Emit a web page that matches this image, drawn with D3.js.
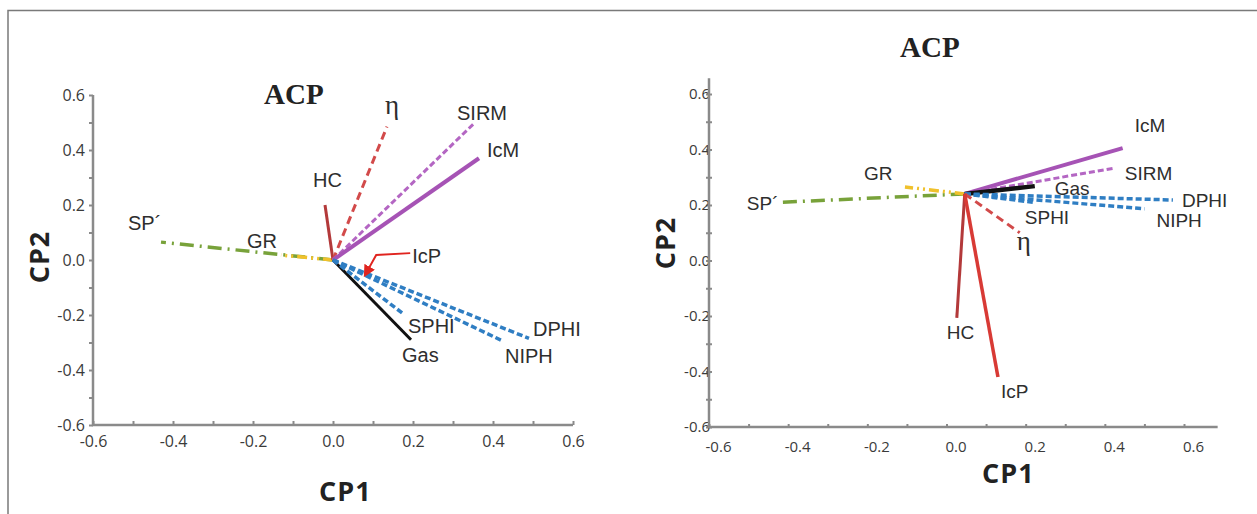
<!DOCTYPE html>
<html>
<head>
<meta charset="utf-8">
<script src="https://cdn.jsdelivr.net/npm/d3@7"></script>
<style>
  body { margin: 0; background: #fff; }
  svg { display: block; }
</style>
</head>
<body>
<div id="chart"></div>
<script>
// === Data ===
const tickValues = [-0.6, -0.5, -0.4, -0.3, -0.2, -0.1, 0, 0.1, 0.2, 0.3, 0.4, 0.5, 0.6];

// left panel: vectors start at (0,0)
const leftNames = ["SP´", "GR", "HC", "η", "SIRM", "IcM", "Gas", "SPHI", "DPHI", "NIPH"];
const leftCP1 = [-0.43, -0.13, -0.02, 0.135, 0.355, 0.365, 0.195, 0.175, 0.49, 0.425];
const leftCP2 = [0.065, 0.018, 0.2, 0.485, 0.5, 0.37, -0.29, -0.195, -0.285, -0.295];
const leftOrigin = [0, 0];
// IcP pointer arrow in the left panel
const icpArrowCP1 = [0.193, 0.108, 0.08];
const icpArrowCP2 = [0.025, 0.018, -0.055];

// right panel: vectors start at a shifted origin
const rightNames = ["SP´", "GR", "IcM", "SIRM", "Gas", "DPHI", "NIPH", "SPHI", "η", "HC", "IcP"];
const rightCP1 = [-0.416, -0.105, 0.445, 0.425, 0.223, 0.572, 0.5, 0.218, 0.185, 0.026, 0.13];
const rightCP2 = [0.21, 0.265, 0.405, 0.333, 0.268, 0.218, 0.186, 0.21, 0.1, -0.207, -0.42];
const rightOrigin = [0.046, 0.24];

// === Styles ===
const lineStyle = {
  "SP´":  { color: "#78a23a", width: 3.5, dash: "14,6,2,6" },
  "GR":   { color: "#f0c12c", width: 3.5, dash: "10,4,2,4,2,4" },
  "HC":   { color: "#b3393a", width: 3, dash: null },
  "η":    { color: "#d24a4a", width: 3, dash: "8,5" },
  "SIRM": { color: "#b466c3", width: 3, dash: "6,3" },
  "IcM":  { color: "#a653b5", width: 4, dash: null },
  "IcP":  { color: "#d83a35", width: 3.5, dash: null },
  "Gas":  { color: "#111", width: 3, dash: null },
  "SPHI": { color: "#2f7ec3", width: 3.5, dash: "6,3" },
  "DPHI": { color: "#2f7ec3", width: 3.5, dash: "6,3" },
  "NIPH": { color: "#2f7ec3", width: 3.5, dash: "6,3" }
};

// label offsets from the vector tip, px
const leftLabelOff = {
  "SP´": [-33, -12], "GR": [-34, -7], "HC": [-12, -18], "η": [-2, -13],
  "SIRM": [-18, -3], "IcM": [8, -1], "Gas": [-9, 22], "SPHI": [5, 19],
  "DPHI": [4, -2], "NIPH": [2, 22]
};
const rightLabelOff = {
  "SP´": [-35, 8], "GR": [-41, -7], "IcM": [12, -16], "SIRM": [10, 12],
  "Gas": [20, 9], "DPHI": [9, 7], "NIPH": [12, 18], "SPHI": [-8, 22],
  "η": [-3, 17], "HC": [-10, 21], "IcP": [3, 21]
};

const W = 1257, H = 514;
const svg = d3.select("#chart").append("svg")
  .attr("width", W)
  .attr("height", H);

// frame (top and left edge only)
svg.append("path")
  .attr("d", `M8,${H} L8,10.5 L${W},10.5`)
  .attr("fill", "none")
  .attr("stroke", "#7a7a7a")
  .attr("stroke-width", 1.5);

const defs = svg.append("defs");
defs.append("marker")
  .attr("id", "redHead")
  .attr("viewBox", "0 0 10 10")
  .attr("refX", 8)
  .attr("refY", 5)
  .attr("markerWidth", 6)
  .attr("markerHeight", 6)
  .attr("markerUnits", "strokeWidth")
  .attr("orient", "auto")
  .append("path")
  .attr("d", "M0,0 L10,5 L0,10 z")
  .attr("fill", "#e0241f");

function drawPanel(p) {
  const x = d3.scaleLinear().domain([-0.6, 0.6]).range(p.xRange);
  const y = d3.scaleLinear().domain([-0.6, 0.6]).range(p.yRange);
  const g = svg.append("g");
  const fmt = d => (Math.round(d * 10) % 2 === 0 ? d.toFixed(1) : "");

  // === X Axis ===
  const xAxis = g.append("g")
    .attr("transform", `translate(0,${y(-0.6)})`)
    .call(d3.axisBottom(x).tickValues(tickValues).tickFormat(fmt)
      .tickSize(-p.xTick).tickSizeOuter(0).tickPadding(p.xPad));
  xAxis.select(".domain").remove();
  xAxis.selectAll(".tick line").attr("stroke", "#8a8a8a").attr("stroke-width", 2);
  xAxis.selectAll("text")
    .attr("x", p.xLabelShift)
    .style("font-family", "'Open Sans', sans-serif")
    .style("font-size", p.tickFont + "px")
    .style("fill", "#3a3a3a");

  // === Y Axis ===
  const yAxis = g.append("g")
    .attr("transform", `translate(${x(-0.6)},0)`)
    .call(d3.axisLeft(y).tickValues(tickValues).tickFormat(fmt)
      .tickSize(p.yTick).tickSizeOuter(0).tickPadding(p.yPad));
  yAxis.select(".domain").remove();
  yAxis.selectAll(".tick line")
    .attr("x1", p.yTickIn)
    .attr("stroke", "#8a8a8a").attr("stroke-width", 2);
  yAxis.selectAll("text")
    .style("font-family", "'Open Sans', sans-serif")
    .style("font-size", p.tickFont + "px")
    .style("fill", "#3a3a3a");

  // axis lines, extended past the last tick like the original
  g.append("path")
    .attr("d", `M${x(-0.6)},${y(p.yMax)} L${x(-0.6)},${y(-0.6)} L${x(p.xMax)},${y(-0.6)}`)
    .attr("fill", "none")
    .attr("stroke", "#8a8a8a")
    .attr("stroke-width", 2.5);

  // === Vectors ===
  const data = p.names.map((n, i) => ({ name: n, cp1: p.cp1[i], cp2: p.cp2[i] }));
  const ox = x(p.origin[0]), oy = y(p.origin[1]);
  g.selectAll("line.vec")
    .data(data)
    .enter()
    .append("line")
    .attr("class", "vec")
    .attr("x1", ox)
    .attr("y1", oy)
    .attr("x2", d => x(d.cp1))
    .attr("y2", d => y(d.cp2))
    .attr("stroke", d => lineStyle[d.name].color)
    .attr("stroke-width", d => (p.widths && p.widths[d.name]) || lineStyle[d.name].width)
    .attr("stroke-dasharray", d => lineStyle[d.name].dash);

  // === Labels ===
  g.selectAll("text.lab")
    .data(data)
    .enter()
    .append("text")
    .attr("class", "lab")
    .attr("x", d => x(d.cp1) + p.labelOff[d.name][0])
    .attr("y", d => y(d.cp2) + p.labelOff[d.name][1])
    .style("font-family", d => d.name === "η" ? "'Liberation Serif', serif" : "'Liberation Sans', Arial, sans-serif")
    .style("font-size", d => d.name === "η" ? "27px" : p.labelFont + "px")
    .style("fill", "#2e2e2e")
    .text(d => d.name);

  // === Titles ===
  g.append("text")
    .attr("x", p.title[0])
    .attr("y", p.title[1])
    .style("font-family", "'Liberation Serif', 'Times New Roman', serif")
    .style("font-weight", "bold")
    .style("font-size", "29px")
    .style("fill", "#222")
    .text("ACP");

  g.append("text")
    .attr("x", p.cp1Label[0])
    .attr("y", p.cp1Label[1])
    .style("font-family", "'Open Sans', sans-serif")
    .style("font-weight", "bold")
    .style("font-size", "27px")
    .style("letter-spacing", "1px")
    .style("fill", "#222")
    .text("CP1");

  g.append("text")
    .attr("transform", `translate(${p.cp2Label[0]},${p.cp2Label[1]}) rotate(-90)`)
    .attr("text-anchor", "middle")
    .style("font-family", "'Open Sans', sans-serif")
    .style("font-weight", "bold")
    .style("font-size", "27px")
    .style("letter-spacing", "1px")
    .style("fill", "#222")
    .text("CP2");

  return { x, y, g };
}

const left = drawPanel({
  xRange: [93, 573], yRange: [425, 95], xMax: 0.6, yMax: 0.6,
  xTick: 4, xPad: 11, xLabelShift: 0, yTick: 4, yTickIn: 0, yPad: 4, tickFont: 16,
  names: leftNames, cp1: leftCP1, cp2: leftCP2, origin: leftOrigin,
  labelOff: leftLabelOff, labelFont: 20,
  title: [264, 104], cp1Label: [319, 501], cp2Label: [49, 257]
});

// IcP pointer arrow
const arrowLine = d3.line()
  .x(d => left.x(d[0]))
  .y(d => left.y(d[1]));
left.g.append("path")
  .attr("d", arrowLine(icpArrowCP1.map((v, i) => [v, icpArrowCP2[i]])))
  .attr("fill", "none")
  .attr("stroke", "#e0241f")
  .attr("stroke-width", 2)
  .attr("marker-end", "url(#redHead)");
left.g.append("text")
  .attr("x", left.x(icpArrowCP1[0]) + 2)
  .attr("y", left.y(icpArrowCP2[0]) + 10)
  .style("font-family", "'Liberation Sans', Arial, sans-serif")
  .style("font-size", "20px")
  .style("fill", "#2e2e2e")
  .text("IcP");

drawPanel({
  xRange: [709, 1184], yRange: [427, 94], xMax: 0.685, yMax: 0.657,
  xTick: 3, xPad: 14, xLabelShift: 9, yTick: 3, yTickIn: 3, yPad: -4, tickFont: 15,
  names: rightNames, cp1: rightCP1, cp2: rightCP2, origin: rightOrigin,
  labelOff: rightLabelOff, labelFont: 19, widths: { "Gas": 4.5 },
  title: [900, 57], cp1Label: [982, 483], cp2Label: [675, 243]
});
</script>
</body>
</html>
